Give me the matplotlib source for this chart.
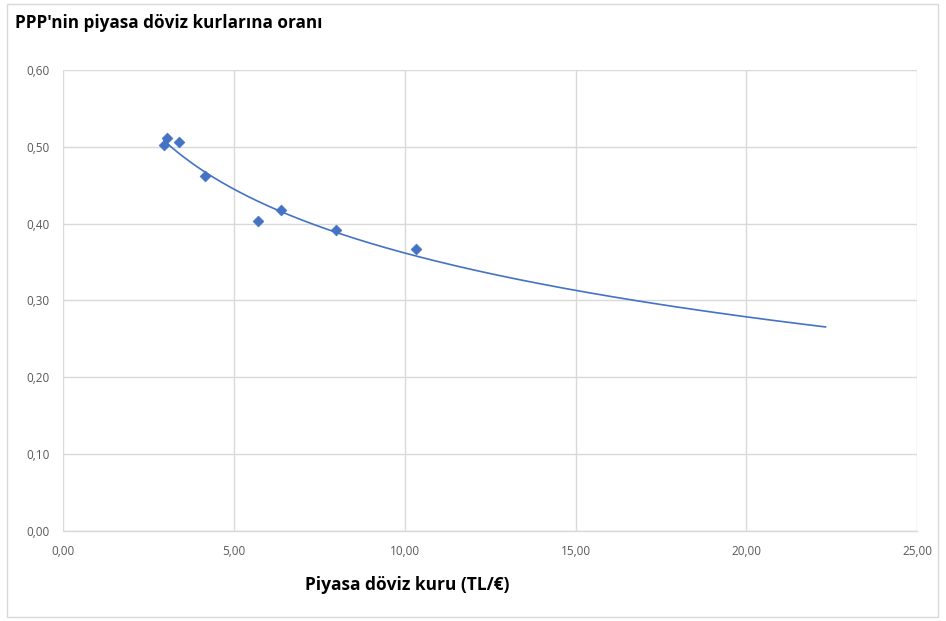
import numpy as np
import matplotlib
matplotlib.use("Agg")
import matplotlib.pyplot as plt
from matplotlib.ticker import FuncFormatter, MultipleLocator
from matplotlib.patches import Rectangle

# Data
kur = [2.95, 3.04, 3.38, 4.16, 5.70, 6.37, 7.98, 10.32]   # Piyasa döviz kuru (TL/€)
oran = [0.502, 0.512, 0.506, 0.462, 0.404, 0.418, 0.392, 0.367]  # PPP / piyasa kuru
forecast_forward = 12.0

title = "PPP'nin piyasa döviz kurlarına oranı"
xlabel = "Piyasa döviz kuru (TL/€)"

plt.rcParams['font.family'] = ['Open Sans', 'DejaVu Sans']

fig = plt.figure(figsize=(9.46, 6.21), dpi=100)
fig.patches.append(Rectangle((7/946, 4/621), 931/946, 613/621, transform=fig.transFigure,
                             fill=False, edgecolor='#d9d9d9', linewidth=1))
ax = fig.add_axes([63.3/946, 1-531/621, (917-63.3)/946, (531-70)/621])

blue = '#4472C4'
grid = '#d9d9d9'

# logarithmic trendline
x = np.array(kur); y = np.array(oran)
b, a = np.polyfit(np.log(x), y, 1)
xt = np.linspace(x.min(), x.max() + forecast_forward, 300)
ax.plot(xt, a + b*np.log(xt), color=blue, linewidth=1.2, zorder=2)

ax.scatter(kur, oran, marker='D', s=30, color=blue, edgecolors=blue, linewidths=0.5, zorder=3)

ax.set_xlim(0, 25)
ax.set_ylim(0, 0.6)
ax.xaxis.set_major_locator(MultipleLocator(5))
ax.yaxis.set_major_locator(MultipleLocator(0.1))
ax.xaxis.set_major_formatter(FuncFormatter(lambda v, p: f"{v:.2f}".replace('.', ',')))
ax.yaxis.set_major_formatter(FuncFormatter(lambda v, p: f"{v:.2f}".replace('.', ',')))
ax.grid(True, color=grid, linewidth=1)
ax.set_axisbelow(True)
for s in ['top', 'right', 'left']:
    ax.spines[s].set_visible(False)
ax.spines['bottom'].set_color(grid)
ax.spines['bottom'].set_linewidth(1)
ax.tick_params(length=0, labelsize=8.5, labelcolor='#595959')
ax.tick_params(axis='x', pad=10)
ax.tick_params(axis='y', pad=10)

fig.text(15/946, 1-23/621, title, fontsize=12.3, fontweight='bold', color='black',
         ha='left', va='center')
fig.text(407/946, 1-585/621, xlabel, fontsize=12.5, fontweight='bold', color='black',
         ha='center', va='center')

fig.savefig("out.png", dpi=100)
